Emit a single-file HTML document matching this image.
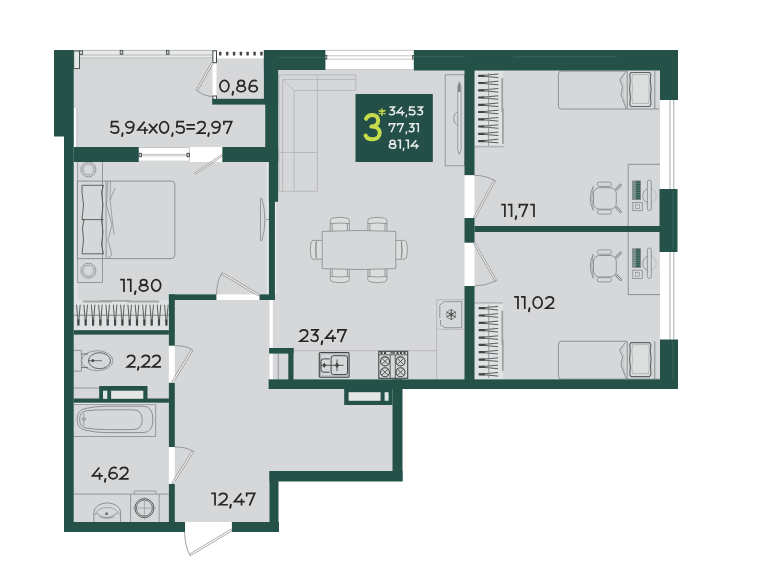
<!DOCTYPE html>
<html><head><meta charset="utf-8">
<style>
html,body{margin:0;padding:0;background:#fff;}
body{width:783px;height:569px;overflow:hidden;}
svg{display:block;}
text{font-family:"Liberation Sans",sans-serif;}
svg{will-change:transform;}
</style></head>
<body>
<svg width="783" height="569" viewBox="0 0 783 569">
<g fill="#d6d7d9">
<rect x="73" y="50" width="192" height="112"/>
<rect x="73" y="162" width="197" height="170"/>
<rect x="73" y="332" width="97" height="190"/>
<rect x="170" y="295" width="105" height="228"/>
<rect x="270" y="380" width="125" height="95"/>
<rect x="272" y="70" width="194" height="311"/>
<rect x="464" y="70" width="197" height="311"/>
</g>
<g fill="#fff">
<rect x="73.7" y="50" width="138.8" height="8.5" fill="#e8eaea"/>
<rect x="73.7" y="108" width="3.1" height="39"/>
<rect x="216.5" y="50" width="47.5" height="8.4"/>
<rect x="212.5" y="62.7" width="4" height="33.3"/>
<rect x="138.75" y="147" width="83.8" height="15"/>
<rect x="325.5" y="50" width="88.3" height="20"/>
<rect x="660" y="100" width="18" height="89"/>
<rect x="660" y="252" width="18" height="87.5"/>
<rect x="269.5" y="300" width="3.3" height="79.4"/>
<rect x="266.7" y="162" width="2.2" height="132" fill="#e6e8e8"/>
<rect x="274.9" y="201.8" width="1.6" height="92.6" fill="#e6e8e8"/>
</g>
<g fill="none" stroke="#85888a" stroke-width="0.8">
<path d="M73.7 50.4H212.5M78 55H212.5M78 57.9H212.5" stroke="#a9adac"/>
<path d="M76.8 108V147" stroke="#b4b6b7"/>
<rect x="73.7" y="51" width="5.8" height="17.6" fill="#e2e9e6" stroke="#3f4846" stroke-width="0.9"/>
<g fill="#d6d7d9" stroke="#3f4846" stroke-width="0.9"><rect x="79.6" y="50.8" width="2.9" height="3.6"/><rect x="120.2" y="50.6" width="2.6" height="3.6"/><rect x="166.4" y="50.6" width="2.6" height="3.6"/></g>
<g fill="#3f4846" stroke="none"><rect x="219.0" y="51.8" width="2.4" height="3.6" rx="0.5"/><rect x="226.0" y="51.8" width="2.4" height="3.6" rx="0.5"/><rect x="232.9" y="51.8" width="2.4" height="3.6" rx="0.5"/><rect x="239.7" y="51.8" width="2.4" height="3.6" rx="0.5"/><rect x="246.4" y="51.8" width="2.4" height="3.6" rx="0.5"/><rect x="253.4" y="51.8" width="2.4" height="3.6" rx="0.5"/><rect x="260.2" y="51.8" width="2.4" height="3.6" rx="0.5"/></g>
<rect x="212.9" y="50.8" width="3.6" height="11.9" fill="#fff" stroke="#3f4846" stroke-width="1"/>
<rect x="212.9" y="96" width="3.6" height="3.5" fill="#fff" stroke="#3f4846" stroke-width="1"/>
<path d="M211.7 62.3L196.0 90.0L197.6 90.8L213.3 63.1Z" fill="#fff" fill-opacity="0.6" stroke="#85888a" stroke-width="0.7"/>
<path d="M196.8 90.4Q203 96 212.5 96.5"/>
<path d="M138.7 147.5H189.4V161.2H138.7M138.7 154.4H189.4M138.7 155.8H189.4" stroke="#b4b6b7"/>
<g fill="#d6d7d9" stroke="#3f4846" stroke-width="0.9"><rect x="139" y="153.3" width="2.4" height="3.4"/><rect x="187" y="153.3" width="2.4" height="3.4"/></g>
<path d="M221.7 154.6L194.6 172.8L195.6 174.2L222.7 156.0Z" fill="#fff" fill-opacity="0.6" stroke="#85888a" stroke-width="0.7"/>
<path d="M325.5 50.3H413.8M325.5 55.8H413.8M325.5 59.2H413.8M325.5 69.6H413.8" stroke="#b4b6b7"/>
<g fill="#d6d7d9" stroke="#3f4846" stroke-width="0.8"><rect x="324.8" y="55.5" width="2" height="3.5"/><rect x="412.6" y="55.5" width="2" height="3.5"/></g>
<path d="M670 100V189M673.8 100V189M670 252V339.5M673.8 252V339.5" stroke="#85888a" stroke-width="0.7"/>
<g stroke="#b4b6b7" stroke-width="0.9"><path d="M279 74.9H355.8V90.4H294.1M279 74.9V191.3H317.4V74.9M282.7 191.3V79.4H355.8M282.7 79.4L294.1 90.4V191.3M279 152.5H317.4"/></g>
<path d="M330.3 231V220.3Q330.3 217.6 339.8 217.4Q349.3 217.6 349.3 220.3V231M332.2 223.5V231M347.40000000000003 223.5V231M330.3 223.6Q339.8 222.4 349.3 223.6" stroke-width="0.8" fill="#dcdede"/>
<path d="M330.3 269V279.7Q330.3 282.4 339.8 282.6Q349.3 282.4 349.3 279.7V269M332.2 276.5V269M347.40000000000003 276.5V269M330.3 276.4Q339.8 277.6 349.3 276.4" stroke-width="0.8" fill="#dcdede"/>
<path d="M367.9 231V220.3Q367.9 217.6 377.4 217.4Q386.9 217.6 386.9 220.3V231M369.79999999999995 223.5V231M385.0 223.5V231M367.9 223.6Q377.4 222.4 386.9 223.6" stroke-width="0.8" fill="#dcdede"/>
<path d="M367.9 269V279.7Q367.9 282.4 377.4 282.6Q386.9 282.4 386.9 279.7V269M369.79999999999995 276.5V269M385.0 276.5V269M367.9 276.4Q377.4 277.6 386.9 276.4" stroke-width="0.8" fill="#dcdede"/>
<path d="M322.5 240.4H313.4Q310.4 240.4 310.4 249.8Q310.4 259.2 313.4 259.2H322.5M316 242.2V257.4M316.6 241Q314.4 249.8 316.6 258.6" stroke-width="0.8" fill="#dcdede"/>
<path d="M395.5 240.4H404.3Q407.3 240.4 407.3 249.8Q407.3 259.2 404.3 259.2H395.5M401.7 242.2V257.4M401.1 241Q403.3 249.8 401.1 258.6" stroke-width="0.8" fill="#dcdede"/>
<path d="M322.2 231.4Q359 229.5 395.8 231.4V268.6Q359 270.5 322.2 268.6Z" fill="#d6d7d9"/>
<rect x="445.2" y="74.8" width="19.5" height="91"/>
<path d="M457.8 112A4 6.5 0 0 0 457.8 125" stroke="#85888a" stroke-width="0.8"/>
<path d="M459.35 81.5L461 86V150L459.35 154.3L457.8 150V86Z" fill="#dcdedf" stroke="#85888a" stroke-width="0.8"/>
<path d="M459.35 82.5L460.5 86V92H458.2V86Z" fill="#77807e" stroke="none"/>
<rect x="474.5" y="70.5" width="28.5" height="76" fill="#dfe2e2" stroke="none"/>
<path d="M478.3 75.8L498.4 74.0M478.3 75.8L498.4 77.6M478.3 83.0L498.4 81.2M478.3 83.0L498.4 84.8M478.3 90.3L498.4 88.5M478.3 90.3L498.4 92.1M478.3 97.5L498.4 95.8M478.3 97.5L498.4 99.3M478.3 104.8L498.4 103.0M478.3 104.8L498.4 106.6M478.3 112.0L498.4 110.2M478.3 112.0L498.4 113.8M478.3 119.3L498.4 117.5M478.3 119.3L498.4 121.1M478.3 126.5L498.4 124.8M478.3 126.5L498.4 128.3M478.3 133.8L498.4 132.0M478.3 133.8L498.4 135.6M478.3 141.1L498.4 139.2M478.3 141.1L498.4 142.9" stroke="#56605e" stroke-width="1"/>
<path d="M478.3 75.8h6M478.3 83.0h6M478.3 90.3h6M478.3 97.5h6M478.3 104.8h6M478.3 112.0h6M478.3 119.3h6M478.3 126.5h6M478.3 133.8h6M478.3 141.1h6" stroke="#3f4846" stroke-width="2.2"/>
<path d="M488.6 73V146" stroke="#85888a" stroke-width="0.8"/>
<path d="M474.5 146.6H503.6" stroke="#b4b6b7" stroke-width="1.8"/>
<path d="M502.2 78V112M502.9 108V144" stroke="#9ea3a2" stroke-width="1.8"/>
<rect x="474.5" y="302.9" width="28.5" height="76.5" fill="#dfe2e2" stroke="none"/>
<path d="M474.5 302.9H502.7" stroke="#b4b6b7" stroke-width="1.6"/>
<path d="M478.8 308.2L498.1 306.4M478.8 308.2L498.1 310.0M478.8 315.5L498.1 313.7M478.8 315.5L498.1 317.3M478.8 322.9L498.1 321.1M478.8 322.9L498.1 324.7M478.8 330.2L498.1 328.4M478.8 330.2L498.1 332.0M478.8 337.6L498.1 335.8M478.8 337.6L498.1 339.4M478.8 344.9L498.1 343.1M478.8 344.9L498.1 346.7M478.8 352.2L498.1 350.4M478.8 352.2L498.1 354.0M478.8 359.6L498.1 357.8M478.8 359.6L498.1 361.4M478.8 366.9L498.1 365.1M478.8 366.9L498.1 368.7M478.8 374.3L498.1 372.5M478.8 374.3L498.1 376.1" stroke="#56605e" stroke-width="1"/>
<path d="M478.8 308.2h6M478.8 315.5h6M478.8 322.9h6M478.8 330.2h6M478.8 337.6h6M478.8 344.9h6M478.8 352.2h6M478.8 359.6h6M478.8 366.9h6M478.8 374.3h6" stroke="#3f4846" stroke-width="2.2"/>
<path d="M488.7 305V378" stroke="#85888a" stroke-width="0.8"/>
<path d="M502.3 310.7V345M502.8 340V371" stroke="#9ea3a2" stroke-width="1.8"/>
<path d="M293.5 350.7H436.6V299.6H463.9M436.6 329.3H463.9M436.6 350.7V379.3" stroke="#b4b6b7" stroke-width="0.9"/>
<path d="M278.3 353.6V379.4"/>
<path d="M439.8 305L444 301.6H461.7V327.7H445L440.5 325V320M439.8 305V318" stroke="#85888a" stroke-width="0.8"/>
<g stroke="#3f4846" stroke-width="0.9"><path d="M451.2 309V320M446.4 311.75L456 317.25M446.4 317.25L456 311.75"/><circle cx="451.2" cy="314.5" r="4.6" stroke-width="0.5"/><circle cx="451.2" cy="314.5" r="1.6" stroke-width="0.6"/></g>
<rect x="319.3" y="352.5" width="29.8" height="24.8" rx="1" stroke="#3f4846" stroke-width="1.1"/>
<rect x="320.6" y="353.8" width="27.2" height="22.2" rx="0.8" stroke="#85888a" stroke-width="0.6"/>
<rect x="331.1" y="355.7" width="16.4" height="18.9" rx="2.5" stroke="#3f4846" stroke-width="1"/>
<path d="M329.6 358.9H323.5Q321 358.9 321 361.5V369.6Q321 372.2 323.5 372.2H329.6" stroke="#3f4846" stroke-width="1"/>
<path d="M337 359.5v11.6M321 365.3H343.5" stroke="#3f4846" stroke-width="0.9"/>
<path d="M337 362.5L339.2 365.3L337 368.1L334.8 365.3Z" fill="#3f4846" stroke="none"/><path d="M324.3 362.7L326.3 365.3L324.3 367.9L322.3 365.3Z" fill="#3f4846" stroke="none"/>
<rect x="378.8" y="351.3" width="28.9" height="27" stroke="#3f4846" stroke-width="1.1"/>
<path d="M390.2 355V378.3M395.3 355V378.3M378.8 354.8H407.7" stroke="#3f4846" stroke-width="0.8"/>
<g fill="#3f4846" stroke="none"><rect x="380.5" y="351.8" width="2" height="2.2"/><rect x="384" y="351.8" width="2" height="2.2"/><rect x="396.5" y="351.8" width="2" height="2.2"/><rect x="400" y="351.8" width="2" height="2.2"/><rect x="403.5" y="351.8" width="2" height="2.2"/><rect x="390.5" y="352.3" width="4.5" height="1.3"/></g>
<circle cx="385" cy="361.4" r="4.5" stroke="#3f4846" stroke-width="1.1"/><path d="M381.9 358.29999999999995l6.2 6.2M388.1 358.29999999999995l-6.2 6.2" stroke="#3f4846" stroke-width="0.9"/>
<circle cx="400.5" cy="361.4" r="4.5" stroke="#3f4846" stroke-width="1.1"/><path d="M397.4 358.29999999999995l6.2 6.2M403.6 358.29999999999995l-6.2 6.2" stroke="#3f4846" stroke-width="0.9"/>
<circle cx="385" cy="372.2" r="4.5" stroke="#3f4846" stroke-width="1.1"/><path d="M381.9 369.09999999999997l6.2 6.2M388.1 369.09999999999997l-6.2 6.2" stroke="#3f4846" stroke-width="0.9"/>
<circle cx="400.5" cy="372.2" r="4.5" stroke="#3f4846" stroke-width="1.1"/><path d="M397.4 369.09999999999997l6.2 6.2M403.6 369.09999999999997l-6.2 6.2" stroke="#3f4846" stroke-width="0.9"/>
<rect x="73.7" y="162" width="3.7" height="168.2" fill="#e2e4e4" stroke="none"/>
<path d="M102.5 162V181.1M102.5 258.6V282.5H77.4V162" stroke="#85888a"/>
<circle cx="88.4" cy="169.4" r="7.5"/><circle cx="88.4" cy="169.4" r="5.6"/>
<circle cx="88.4" cy="270.7" r="7.5"/><circle cx="88.4" cy="270.7" r="5.6"/>
<path d="M77.4 181.1H171.3a3.5 3.5 0 0 1 3.5 3.5V255.1a3.5 3.5 0 0 1-3.5 3.5H77.4Z" stroke-width="0.9"/>
<path d="M102.5 181.1V258.6" stroke-width="0.8"/>
<path d="M106.1 181.1V258.6"/>
<path d="M82 185.3H103.5L101.5 192L103 205L101.5 219.6L103 232L101.5 245L103.5 253.8H82L83.5 240L82.5 228L84 219.6H82L83.5 205L82 192Z" stroke="#3f4846" stroke-width="0.8"/>
<path d="M82 219.6H103.5" stroke="#3f4846" stroke-width="0.8"/>
<path d="M108 181.1L106.5 205L112 225L108 240L112 255L107 258.6M110.5 181.1L110 200L115 188M110 200L114 235" stroke="#85888a" stroke-width="0.7"/>
<path d="M260.5 198V241.2M261.8 198Q268 219.5 261.8 241.2M266 219.5H268.9" stroke="#85888a" stroke-width="0.8"/>
<rect x="73.7" y="300" width="95.2" height="30.2" fill="#dfe2e2" stroke="none"/>
<path d="M82.7 301.5H112M100 300.8H131M127 301.5H159.2" stroke="#a3a8a7" stroke-width="1.8"/>
<path d="M78.4 325.5L76.6 304.7M78.4 325.5L80.2 304.7M85.7 325.5L83.9 304.7M85.7 325.5L87.5 304.7M93.1 325.5L91.3 304.7M93.1 325.5L94.9 304.7M100.4 325.5L98.6 304.7M100.4 325.5L102.2 304.7M107.7 325.5L105.9 304.7M107.7 325.5L109.5 304.7M115.1 325.5L113.3 304.7M115.1 325.5L116.9 304.7M122.4 325.5L120.6 304.7M122.4 325.5L124.2 304.7M129.7 325.5L127.9 304.7M129.7 325.5L131.5 304.7M137.0 325.5L135.2 304.7M137.0 325.5L138.8 304.7M144.4 325.5L142.6 304.7M144.4 325.5L146.2 304.7M151.7 325.5L149.9 304.7M151.7 325.5L153.5 304.7M159.0 325.5L157.2 304.7M159.0 325.5L160.8 304.7M166.4 325.5L164.6 304.7M166.4 325.5L168.2 304.7" stroke="#56605e" stroke-width="1"/>
<path d="M78.4 325.5v-6M85.7 325.5v-6M93.1 325.5v-6M100.4 325.5v-6M107.7 325.5v-6M115.1 325.5v-6M122.4 325.5v-6M129.7 325.5v-6M137.0 325.5v-6M144.4 325.5v-6M151.7 325.5v-6M159.0 325.5v-6M166.4 325.5v-6" stroke="#3f4846" stroke-width="2.2"/>
<path d="M74 315.2H168.9" stroke="#66706e" stroke-width="0.8"/>
<path d="M74 350.4H81.4V371.2H74"/>
<ellipse cx="97.2" cy="360.7" rx="15.7" ry="10"/>
<ellipse cx="99.5" cy="360.7" rx="11" ry="8" stroke="#3f4846"/>
<path d="M81.4 354H88M81.4 367.4H88M88 360.7H102" stroke="#3f4846" stroke-width="0.7"/>
<circle cx="92.8" cy="360.7" r="1.4" fill="#3f4846" stroke="none"/>
<path d="M74 388H99.2" stroke="#85888a"/>
<rect x="74" y="402.6" width="81.7" height="1.8" fill="#eceeee" stroke="none"/>
<path d="M74 404.4H155.7V436.5H74" stroke="#85888a"/>
<path d="M86 408.4Q96 406.2 106 406.2H143Q152.9 406.2 152.9 419.4Q152.9 432.6 143 432.6H106Q96 432.6 86 430.3Q77.1 429 77.1 419.4Q77.1 409.7 86 408.4Z" stroke="#85888a" stroke-width="0.9"/>
<path d="M86 410.8Q95 409.8 106 409.8H133Q142.2 409.8 142.2 419.6Q142.2 429.6 133 429.6H106Q95 429.6 86 428Q79.6 427 79.6 419.4Q79.6 411.8 86 410.8Z" stroke="#85888a" stroke-width="0.9"/>
<path d="M83.8 412.5V426" stroke="#85888a" stroke-width="0.7"/><ellipse cx="83.8" cy="419.1" rx="1.9" ry="1.3" stroke="#85888a" stroke-width="0.8"/>
<path d="M74 494.1H168.9M130.6 494.1V522M159.2 494.1V522M134.1 494.1V491H155.8V494.1"/>
<circle cx="144.4" cy="508.1" r="9.5" stroke="#3f4846" stroke-width="0.9"/><circle cx="144.4" cy="508.1" r="8" stroke="#3f4846" stroke-width="0.7"/>
<path d="M144.4 497V519.5M133 508.1H156" stroke="#85888a" stroke-width="0.6"/>
<path d="M93.9 522V512.2A13.35 9.3 0 0 1 120.6 512.2V522" stroke="#85888a" stroke-width="0.9"/>
<path d="M95.3 515A11.9 7.5 0 0 1 119.2 515" stroke="#85888a" stroke-width="0.6"/>
<path d="M96 512.7Q106.8 523 117.2 512.7" stroke="#85888a" stroke-width="0.9"/>
<path d="M99 516.8Q106.8 520 114.5 516.8" stroke="#85888a" stroke-width="0.6"/>
<circle cx="106.6" cy="513.7" r="1.5" fill="#6a7371" stroke="none"/>
</g>
<g fill="none" stroke="#85888a" stroke-width="0.8">

<g transform="translate(0,0.0)">
<path d="M626.4 71.1H561.4a3 3 0 0 0-3 3V106a3 3 0 0 0 3 3H626.4" fill="none" stroke="#85888a" stroke-width="0.9"/>
<path d="M626.4 71.1L619.6 79.8L622.5 86.4L621 95L626.4 109" fill="none" stroke="#85888a" stroke-width="0.9"/>
<path d="M626.4 71.1L621.5 79.8L624 86.4L623 95L626.4 109" fill="none" stroke="#b4b6b7" stroke-width="0.6"/>
<path d="M627.2 71.1V109M654.8 71.1V109M626.4 109H659.2" fill="none" stroke="#85888a" stroke-width="0.9"/>
<path d="M631 72.5h18.5l1.3 2l-0.5 6l0.8 8l-0.6 8l0.5 7.5l-1.5 2.5H631l-1.2-2l0.6-7l-0.8-8l0.6-9l-0.4-6z" fill="#dcdede" stroke="#5d6664" stroke-width="1.1"/>
<path d="M632.5 74.5h16l0.8 6l-0.5 8l0.5 8l-0.8 7h-16l-0.6-7l0.6-8l-0.6-8z" fill="none" stroke="#9aa09e" stroke-width="0.6"/>
</g>

<g transform="translate(0,270.15)">
<path d="M626.4 71.1H561.4a3 3 0 0 0-3 3V106a3 3 0 0 0 3 3H626.4" fill="none" stroke="#85888a" stroke-width="0.9"/>
<path d="M626.4 71.1L619.6 79.8L622.5 86.4L621 95L626.4 109" fill="none" stroke="#85888a" stroke-width="0.9"/>
<path d="M626.4 71.1L621.5 79.8L624 86.4L623 95L626.4 109" fill="none" stroke="#b4b6b7" stroke-width="0.6"/>
<path d="M627.2 71.1V109M654.8 71.1V109M626.4 109H659.2" fill="none" stroke="#85888a" stroke-width="0.9"/>
<path d="M631 72.5h18.5l1.3 2l-0.5 6l0.8 8l-0.6 8l0.5 7.5l-1.5 2.5H631l-1.2-2l0.6-7l-0.8-8l0.6-9l-0.4-6z" fill="#dcdede" stroke="#5d6664" stroke-width="1.1"/>
<path d="M632.5 74.5h16l0.8 6l-0.5 8l0.5 8l-0.8 7h-16l-0.6-7l0.6-8l-0.6-8z" fill="none" stroke="#9aa09e" stroke-width="0.6"/>
</g>

<g transform="translate(0,0)">
<rect x="632.4" y="181" width="8" height="18.4" fill="#6d8c84"/>
<rect x="635.6" y="181" width="4.8" height="18.4" fill="#2f5c52"/>
<path d="M632.4 183.3h8M632.4 185.6h8M632.4 187.9h8M632.4 190.2h8M632.4 192.5h8M632.4 194.8h8M632.4 197.1h8" stroke="#8aa39d" stroke-width="0.5"/>
<rect x="632.8" y="202.4" width="9.5" height="8.3" fill="none" stroke="#85888a" stroke-width="0.8"/>
<rect x="635.5" y="204.8" width="4" height="3.6" fill="none" stroke="#85888a" stroke-width="0.6"/>
<path d="M648.5 188.5a7.4 7.4 0 0 0 0 14.4" fill="none" stroke="#85888a" stroke-width="0.8"/>
<path d="M650.5 188.5a7.4 7.4 0 0 1 0 14.4" fill="none" stroke="#b4b6b7" stroke-width="0.8"/>
<rect x="647.4" y="180.3" width="3.9" height="30.1" rx="1.5" fill="#d6d7d9" stroke="#85888a" stroke-width="0.8"/>
<rect x="593.5" y="187.7" width="22.8" height="21.5" rx="6" fill="none" stroke="#85888a" stroke-width="0.9"/>
<path d="M593.3 186.4q-6 12 0 24" fill="none" stroke="#85888a" stroke-width="0.9"/>
<path d="M593.3 186.4q-3 12 0 24" fill="none" stroke="#85888a" stroke-width="0.6"/>
<rect x="597.2" y="182.1" width="14.2" height="4.3" rx="2" fill="none" stroke="#85888a" stroke-width="0.8"/>
<rect x="597.2" y="209.8" width="14.2" height="4.3" rx="2" fill="none" stroke="#85888a" stroke-width="0.8"/>
<path d="M616.6 189.2l4-4.2M616.6 207.7l4 4.2" fill="none" stroke="#85888a" stroke-width="2.6" stroke-linecap="round"/>
<path d="M616.6 189.2l4-4.2M616.6 207.7l4 4.2" fill="none" stroke="#dcdede" stroke-width="1" stroke-linecap="round"/>
</g>

<g transform="translate(0,67.8)">
<rect x="632.4" y="181" width="8" height="18.4" fill="#6d8c84"/>
<rect x="635.6" y="181" width="4.8" height="18.4" fill="#2f5c52"/>
<path d="M632.4 183.3h8M632.4 185.6h8M632.4 187.9h8M632.4 190.2h8M632.4 192.5h8M632.4 194.8h8M632.4 197.1h8" stroke="#8aa39d" stroke-width="0.5"/>
<rect x="632.8" y="202.4" width="9.5" height="8.3" fill="none" stroke="#85888a" stroke-width="0.8"/>
<rect x="635.5" y="204.8" width="4" height="3.6" fill="none" stroke="#85888a" stroke-width="0.6"/>
<path d="M648.5 188.5a7.4 7.4 0 0 0 0 14.4" fill="none" stroke="#85888a" stroke-width="0.8"/>
<path d="M650.5 188.5a7.4 7.4 0 0 1 0 14.4" fill="none" stroke="#b4b6b7" stroke-width="0.8"/>
<rect x="647.4" y="180.3" width="3.9" height="30.1" rx="1.5" fill="#d6d7d9" stroke="#85888a" stroke-width="0.8"/>
<rect x="593.5" y="187.7" width="22.8" height="21.5" rx="6" fill="none" stroke="#85888a" stroke-width="0.9"/>
<path d="M593.3 186.4q-6 12 0 24" fill="none" stroke="#85888a" stroke-width="0.9"/>
<path d="M593.3 186.4q-3 12 0 24" fill="none" stroke="#85888a" stroke-width="0.6"/>
<rect x="597.2" y="182.1" width="14.2" height="4.3" rx="2" fill="none" stroke="#85888a" stroke-width="0.8"/>
<rect x="597.2" y="209.8" width="14.2" height="4.3" rx="2" fill="none" stroke="#85888a" stroke-width="0.8"/>
<path d="M616.6 189.2l4-4.2M616.6 207.7l4 4.2" fill="none" stroke="#85888a" stroke-width="2.6" stroke-linecap="round"/>
<path d="M616.6 189.2l4-4.2M616.6 207.7l4 4.2" fill="none" stroke="#dcdede" stroke-width="1" stroke-linecap="round"/>
</g>
<path d="M660 164.3H628.2V226M628.2 232V294.6H660" stroke="#85888a" stroke-width="0.9"/>
</g>
<g fill="#245248">
<rect x="54" y="50" width="19.7" height="86.5"/>
<rect x="64" y="136" width="9.7" height="396"/>
<rect x="64" y="522" width="121" height="10"/>
<rect x="231.7" y="522" width="47.3" height="10"/>
<rect x="269.5" y="471" width="9" height="61"/>
<rect x="269.5" y="471" width="133" height="10.5"/>
<rect x="392.5" y="379.5" width="10" height="101.5"/>
<rect x="268.6" y="379.4" width="409.4" height="9.6"/>
<rect x="344.2" y="388" width="48.3" height="17"/>
<rect x="660" y="339.5" width="18" height="49.5"/>
<rect x="659.5" y="189" width="18" height="63"/>
<rect x="660" y="50" width="18" height="50"/>
<rect x="413.8" y="50" width="264.2" height="20.5"/>
<rect x="263.9" y="50" width="61.5" height="20"/>
<rect x="263.9" y="50" width="14.2" height="54.6"/>
<rect x="265.2" y="50" width="12.9" height="112"/>
<rect x="268.9" y="147" width="9.2" height="54.8"/>
<rect x="268.9" y="147" width="6" height="153"/>
<rect x="73.7" y="147" width="65" height="15"/>
<rect x="222.4" y="147" width="55.7" height="15"/>
<rect x="212.2" y="98.8" width="52" height="5.8"/>
<rect x="168.9" y="294.4" width="47.7" height="5.6"/>
<rect x="259.3" y="294.4" width="15.5" height="5.6"/>
<rect x="168.9" y="294.4" width="5.9" height="51.4"/>
<rect x="168.9" y="382.6" width="5.9" height="64.4"/>
<rect x="168.9" y="484" width="5.9" height="48"/>
<rect x="73.7" y="330.2" width="95.2" height="4.4"/>
<rect x="73.7" y="398.5" width="95.2" height="4.2"/>
<rect x="99.2" y="386" width="48.3" height="13"/>
<rect x="464.5" y="70" width="10" height="105.3"/>
<rect x="464.5" y="218" width="10" height="24.8"/>
<rect x="464.5" y="286" width="10" height="94"/>
<rect x="474.5" y="226" width="185.5" height="6"/>
<rect x="168.9" y="345.8" width="5.9" height="36.8" fill="#fff"/>
<rect x="168.9" y="447" width="5.9" height="37" fill="#fff"/>
<rect x="216.6" y="294.4" width="42.7" height="5.6" fill="#fff"/>
<rect x="464.5" y="175.3" width="10" height="42.7" fill="#fff"/>
<rect x="464.5" y="242.8" width="10" height="43.2" fill="#fff"/>
<rect x="185" y="522" width="46.7" height="10" fill="#fff"/>
<rect x="269.1" y="348" width="24.4" height="5.6"/>
<rect x="288.3" y="348" width="5.2" height="32"/>
</g>
<path d="M413.4 56.8H465M513.4 56.8H617M278.5 57.3H325M672.9 341V379M672.9 191V250" stroke="#3f6b61" stroke-width="0.8"/>
<g fill="#fff">
<rect x="348.6" y="392.2" width="32" height="8.6" fill="#e4e7e6"/>
<rect x="384.6" y="392.2" width="4" height="8.6" fill="#dfe7e4"/>
<rect x="111.1" y="390.7" width="32.2" height="8.1" fill="#e4e7e6"/>
<rect x="103" y="390.7" width="4.3" height="8.1" fill="#dfe7e4"/>
</g>
<g fill="none" stroke="#85888a" stroke-width="0.8">
<path d="M259.2 294.2L222.3 272.4L221.3 274.0L258.2 295.8Z" fill="#fff" fill-opacity="0.6" stroke="#85888a" stroke-width="0.7"/>
<path d="M221.8 273.2Q216.6 282 216.6 294.4"/>
<path d="M173.3 382.7L193.1 350.2L191.5 349.2L171.7 381.7Z" fill="#fff" fill-opacity="0.6" stroke="#85888a" stroke-width="0.7"/>
<path d="M174.8 345.7Q186 345.5 192.3 349.7"/>
<path d="M173.3 484.0L193.8 451.7L192.2 450.7L171.7 483.0Z" fill="#fff" fill-opacity="0.6" stroke="#85888a" stroke-width="0.7"/>
<path d="M174.8 447Q186 446.8 193 451.2"/>
<path d="M231.2 529.1L189.4 554.2L190.4 555.8L232.2 530.7Z" fill="#fff" fill-opacity="0.6" stroke="#85888a" stroke-width="0.7"/>
<path d="M184.6 532Q184.8 546 189.9 555"/>
<path d="M475.1 218.2L495.6 180.9L494.0 180.1L473.5 217.4Z" fill="#fff" fill-opacity="0.6" stroke="#85888a" stroke-width="0.7"/>
<path d="M474.3 175.3Q486 175.5 494.8 180.5"/>
<path d="M473.5 243.4L495.1 281.2L496.7 280.4L475.1 242.6Z" fill="#fff" fill-opacity="0.6" stroke="#85888a" stroke-width="0.7"/>
<path d="M474.3 286Q486 285.8 495.9 280.8"/>
</g>
<rect x="355.5" y="94" width="77.3" height="68" fill="#244e48"/>
<path d="M366 118.8C367.5 115.6 370 115 372.2 115C375.7 115 378.2 117.3 378.2 120.6C378.2 124.2 375.4 126.6 371.3 126.6C376.5 126.6 379.7 129.2 379.7 133C379.7 137 376.6 139.3 372.3 139.3C369 139.3 366.6 137.8 365.6 135.6" fill="none" stroke="#c6dc4a" stroke-width="4" stroke-linecap="round" stroke-linejoin="round"/>
<path d="M382 108.9V115.3M379.2 110.5L384.8 113.7M379.2 113.7L384.8 110.5" stroke="#c6dc4a" stroke-width="1.5" stroke-linecap="round"/>
<g fill="none" stroke="#e6ebe8" stroke-linejoin="miter" stroke-linecap="butt">
<g transform="translate(388.7,115.4) scale(0.7273,0.6947)" stroke-width="2.2"><g transform="translate(0.00,0)"><path d="M0.9 -12.25H7.9L3.9 -7.5C4.2 -7.5 4.5 -7.5 4.8 -7.5C6.9 -7.5 7.95 -6 7.95 -4.15C7.95 -2.1 6.5 -0.85 4.4 -0.85C2.8 -0.85 1.4 -1.5 0.65 -2.6"/></g><g transform="translate(10.40,0)"><path d="M7.9 -12.25L1.1 -3.9H11.4M8.2 -6.9V0"/></g><g transform="translate(23.00,0)"><path d="M1.5 -0.8L0.85 2.1" stroke-linecap="round" stroke-width="1.9"/></g><g transform="translate(27.00,0)"><path d="M8.9 -12.25H2L1.65 -7.3C2.5 -7.65 3.6 -7.8 4.8 -7.8C7.5 -7.8 9.05 -6.2 9.05 -4.2C9.05 -2 7.3 -0.85 5 -0.85C3 -0.85 1.6 -1.6 0.7 -2.7"/></g><g transform="translate(38.50,0)"><path d="M0.9 -12.25H7.9L3.9 -7.5C4.2 -7.5 4.5 -7.5 4.8 -7.5C6.9 -7.5 7.95 -6 7.95 -4.15C7.95 -2.1 6.5 -0.85 4.4 -0.85C2.8 -0.85 1.4 -1.5 0.65 -2.6"/></g></g>
<g transform="translate(388.7,132.3) scale(0.7056,0.6947)" stroke-width="2.2"><g transform="translate(0.00,0)"><path d="M0.85 -9V-12.25H8.75L3.6 0"/></g><g transform="translate(11.80,0)"><path d="M0.85 -9V-12.25H8.75L3.6 0"/></g><g transform="translate(23.80,0)"><path d="M1.5 -0.8L0.85 2.1" stroke-linecap="round" stroke-width="1.9"/></g><g transform="translate(27.80,0)"><path d="M0.9 -12.25H7.9L3.9 -7.5C4.2 -7.5 4.5 -7.5 4.8 -7.5C6.9 -7.5 7.95 -6 7.95 -4.15C7.95 -2.1 6.5 -0.85 4.4 -0.85C2.8 -0.85 1.4 -1.5 0.65 -2.6"/></g><g transform="translate(38.20,0)"><path d="M0 -12.25H3.75V0"/></g></g>
<g transform="translate(388.7,148.8) scale(0.7402,0.6947)" stroke-width="2.2"><g transform="translate(0.00,0)"><ellipse cx="5.2" cy="-9.55" rx="3.25" ry="2.7"/><ellipse cx="5.2" cy="-3.85" rx="4.35" ry="3.0"/></g><g transform="translate(11.90,0)"><path d="M0 -12.25H3.75V0"/></g><g transform="translate(18.90,0)"><path d="M1.5 -0.8L0.85 2.1" stroke-linecap="round" stroke-width="1.9"/></g><g transform="translate(22.70,0)"><path d="M0 -12.25H3.75V0"/></g><g transform="translate(29.40,0)"><path d="M7.9 -12.25L1.1 -3.9H11.4M8.2 -6.9V0"/></g></g>
</g>
<g fill="none" stroke="#262626" stroke-linejoin="miter" stroke-linecap="butt">
<g transform="translate(219.1,92.6) scale(1.0026,1.0000)" stroke-width="1.7"><g transform="translate(0.00,0)"><ellipse cx="5.3" cy="-6.55" rx="4.45" ry="5.7"/></g><g transform="translate(12.50,0)"><path d="M1.5 -0.8L0.85 2.1" stroke-linecap="round" stroke-width="1.9"/></g><g transform="translate(16.80,0)"><ellipse cx="5.2" cy="-9.55" rx="3.25" ry="2.7"/><ellipse cx="5.2" cy="-3.85" rx="4.35" ry="3.0"/></g><g transform="translate(29.20,0)"><ellipse cx="4.85" cy="-3.95" rx="4" ry="3.1"/><path d="M0.85 -3.95C0.85 -9.5 3 -12.25 5.8 -12.25C6.9 -12.25 7.8 -11.95 8.4 -11.5"/></g></g>
<g transform="translate(109.7,133.9) scale(0.9927,1.0000)" stroke-width="1.7"><g transform="translate(0.00,0)"><path d="M8.9 -12.25H2L1.65 -7.3C2.5 -7.65 3.6 -7.8 4.8 -7.8C7.5 -7.8 9.05 -6.2 9.05 -4.2C9.05 -2 7.3 -0.85 5 -0.85C3 -0.85 1.6 -1.6 0.7 -2.7"/></g><g transform="translate(11.60,0)"><path d="M1.5 -0.8L0.85 2.1" stroke-linecap="round" stroke-width="1.9"/></g><g transform="translate(15.40,0)"><ellipse cx="4.85" cy="-9.15" rx="4" ry="3.1"/><path d="M8.85 -9.15C8.85 -3.6 6.7 -0.85 3.9 -0.85C2.8 -0.85 1.9 -1.15 1.3 -1.6"/></g><g transform="translate(27.30,0)"><path d="M7.9 -12.25L1.1 -3.9H11.4M8.2 -6.9V0"/></g><g transform="translate(39.10,0)"><path d="M0.5 -10L8.9 -0.5M8.9 -10L0.5 -0.5"/></g><g transform="translate(49.50,0)"><ellipse cx="5.3" cy="-6.55" rx="4.45" ry="5.7"/></g><g transform="translate(62.00,0)"><path d="M1.5 -0.8L0.85 2.1" stroke-linecap="round" stroke-width="1.9"/></g><g transform="translate(66.00,0)"><path d="M8.9 -12.25H2L1.65 -7.3C2.5 -7.65 3.6 -7.8 4.8 -7.8C7.5 -7.8 9.05 -6.2 9.05 -4.2C9.05 -2 7.3 -0.85 5 -0.85C3 -0.85 1.6 -1.6 0.7 -2.7"/></g><g transform="translate(77.20,0)"><path d="M0 -9H8.6M0 -5H8.6"/></g><g transform="translate(87.40,0)"><path d="M0.95 -9.9C1.55 -11.5 3 -12.25 4.8 -12.25C7.2 -12.25 8.7 -10.9 8.7 -8.9C8.7 -7.6 8.1 -6.7 6.9 -5.5L1.2 -0.85H9.6"/></g><g transform="translate(98.40,0)"><path d="M1.5 -0.8L0.85 2.1" stroke-linecap="round" stroke-width="1.9"/></g><g transform="translate(102.20,0)"><ellipse cx="4.85" cy="-9.15" rx="4" ry="3.1"/><path d="M8.85 -9.15C8.85 -3.6 6.7 -0.85 3.9 -0.85C2.8 -0.85 1.9 -1.15 1.3 -1.6"/></g><g transform="translate(114.20,0)"><path d="M0.85 -9V-12.25H8.75L3.6 0"/></g></g>
<g transform="translate(120.2,291.9) scale(1.0098,1.0000)" stroke-width="1.7"><g transform="translate(0.00,0)"><path d="M0 -12.25H3.75V0"/></g><g transform="translate(6.70,0)"><path d="M0 -12.25H3.75V0"/></g><g transform="translate(13.70,0)"><path d="M1.5 -0.8L0.85 2.1" stroke-linecap="round" stroke-width="1.9"/></g><g transform="translate(18.00,0)"><ellipse cx="5.2" cy="-9.55" rx="3.25" ry="2.7"/><ellipse cx="5.2" cy="-3.85" rx="4.35" ry="3.0"/></g><g transform="translate(30.30,0)"><ellipse cx="5.3" cy="-6.55" rx="4.45" ry="5.7"/></g></g>
<g transform="translate(126.2,367.7) scale(0.9858,1.0000)" stroke-width="1.7"><g transform="translate(0.00,0)"><path d="M0.95 -9.9C1.55 -11.5 3 -12.25 4.8 -12.25C7.2 -12.25 8.7 -10.9 8.7 -8.9C8.7 -7.6 8.1 -6.7 6.9 -5.5L1.2 -0.85H9.6"/></g><g transform="translate(11.00,0)"><path d="M1.5 -0.8L0.85 2.1" stroke-linecap="round" stroke-width="1.9"/></g><g transform="translate(14.90,0)"><path d="M0.95 -9.9C1.55 -11.5 3 -12.25 4.8 -12.25C7.2 -12.25 8.7 -10.9 8.7 -8.9C8.7 -7.6 8.1 -6.7 6.9 -5.5L1.2 -0.85H9.6"/></g><g transform="translate(25.70,0)"><path d="M0.95 -9.9C1.55 -11.5 3 -12.25 4.8 -12.25C7.2 -12.25 8.7 -10.9 8.7 -8.9C8.7 -7.6 8.1 -6.7 6.9 -5.5L1.2 -0.85H9.6"/></g></g>
<g transform="translate(91.4,479.7) scale(1.0000,1.0000)" stroke-width="1.7"><g transform="translate(0.00,0)"><path d="M7.9 -12.25L1.1 -3.9H11.4M8.2 -6.9V0"/></g><g transform="translate(12.60,0)"><path d="M1.5 -0.8L0.85 2.1" stroke-linecap="round" stroke-width="1.9"/></g><g transform="translate(16.90,0)"><ellipse cx="4.85" cy="-3.95" rx="4" ry="3.1"/><path d="M0.85 -3.95C0.85 -9.5 3 -12.25 5.8 -12.25C6.9 -12.25 7.8 -11.95 8.4 -11.5"/></g><g transform="translate(27.70,0)"><path d="M0.95 -9.9C1.55 -11.5 3 -12.25 4.8 -12.25C7.2 -12.25 8.7 -10.9 8.7 -8.9C8.7 -7.6 8.1 -6.7 6.9 -5.5L1.2 -0.85H9.6"/></g></g>
<g transform="translate(211.2,505.6) scale(1.0183,1.0000)" stroke-width="1.7"><g transform="translate(0.00,0)"><path d="M0 -12.25H3.75V0"/></g><g transform="translate(6.80,0)"><path d="M0.95 -9.9C1.55 -11.5 3 -12.25 4.8 -12.25C7.2 -12.25 8.7 -10.9 8.7 -8.9C8.7 -7.6 8.1 -6.7 6.9 -5.5L1.2 -0.85H9.6"/></g><g transform="translate(17.80,0)"><path d="M1.5 -0.8L0.85 2.1" stroke-linecap="round" stroke-width="1.9"/></g><g transform="translate(21.60,0)"><path d="M7.9 -12.25L1.1 -3.9H11.4M8.2 -6.9V0"/></g><g transform="translate(34.00,0)"><path d="M0.85 -9V-12.25H8.75L3.6 0"/></g></g>
<g transform="translate(298.9,342.1) scale(1.0105,1.0000)" stroke-width="1.7"><g transform="translate(0.00,0)"><path d="M0.95 -9.9C1.55 -11.5 3 -12.25 4.8 -12.25C7.2 -12.25 8.7 -10.9 8.7 -8.9C8.7 -7.6 8.1 -6.7 6.9 -5.5L1.2 -0.85H9.6"/></g><g transform="translate(10.90,0)"><path d="M0.9 -12.25H7.9L3.9 -7.5C4.2 -7.5 4.5 -7.5 4.8 -7.5C6.9 -7.5 7.95 -6 7.95 -4.15C7.95 -2.1 6.5 -0.85 4.4 -0.85C2.8 -0.85 1.4 -1.5 0.65 -2.6"/></g><g transform="translate(21.60,0)"><path d="M1.5 -0.8L0.85 2.1" stroke-linecap="round" stroke-width="1.9"/></g><g transform="translate(25.40,0)"><path d="M7.9 -12.25L1.1 -3.9H11.4M8.2 -6.9V0"/></g><g transform="translate(37.80,0)"><path d="M0.85 -9V-12.25H8.75L3.6 0"/></g></g>
<g transform="translate(501.2,216.9) scale(0.9912,1.0000)" stroke-width="1.7"><g transform="translate(0.00,0)"><path d="M0 -12.25H3.75V0"/></g><g transform="translate(6.70,0)"><path d="M0 -12.25H3.75V0"/></g><g transform="translate(13.70,0)"><path d="M1.5 -0.8L0.85 2.1" stroke-linecap="round" stroke-width="1.9"/></g><g transform="translate(17.60,0)"><path d="M0.85 -9V-12.25H8.75L3.6 0"/></g><g transform="translate(29.30,0)"><path d="M0 -12.25H3.75V0"/></g></g>
<g transform="translate(514.2,309.1) scale(1.0101,1.0000)" stroke-width="1.7"><g transform="translate(0.00,0)"><path d="M0 -12.25H3.75V0"/></g><g transform="translate(6.70,0)"><path d="M0 -12.25H3.75V0"/></g><g transform="translate(13.70,0)"><path d="M1.5 -0.8L0.85 2.1" stroke-linecap="round" stroke-width="1.9"/></g><g transform="translate(17.90,0)"><ellipse cx="5.3" cy="-6.55" rx="4.45" ry="5.7"/></g><g transform="translate(30.20,0)"><path d="M0.95 -9.9C1.55 -11.5 3 -12.25 4.8 -12.25C7.2 -12.25 8.7 -10.9 8.7 -8.9C8.7 -7.6 8.1 -6.7 6.9 -5.5L1.2 -0.85H9.6"/></g></g>
</g>
</svg>
</body></html>
